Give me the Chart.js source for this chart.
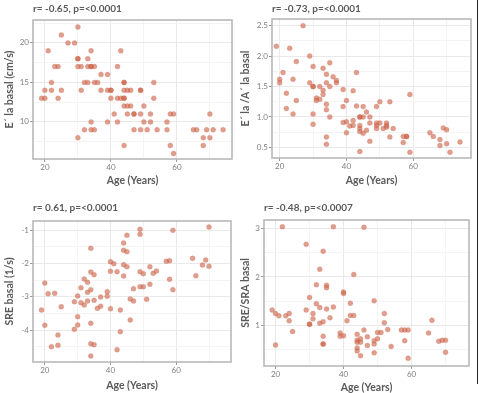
<!DOCTYPE html>
<html>
<head>
<meta charset="utf-8">
<script src="https://cdn.jsdelivr.net/npm/chart.js@4/dist/chart.umd.min.js"></script>
<style>
  body { margin: 0; background: #fff; }
  #wrap { position: relative; width: 481px; height: 393px; overflow: hidden; }
  .panel { position: absolute; }
  #edge { position: absolute; left: 477px; top: 0; width: 1px; height: 384px; background: #222; }
</style>
</head>
<body>
<div id="wrap">
  <div class="panel" style="left:0;top:0"><canvas id="c1" width="240" height="195"></canvas></div>
  <div class="panel" style="left:240px;top:0"><canvas id="c2" width="241" height="195"></canvas></div>
  <div class="panel" style="left:0;top:195px"><canvas id="c3" width="240" height="198"></canvas></div>
  <div class="panel" style="left:240px;top:195px"><canvas id="c4" width="241" height="198"></canvas></div>
  <div id="edge"></div>
</div>
<script>
// --- data ---
const age1 = [19,20,20,21,22,22,23,24,24,25,25,27,29,30,30,30,30,31,31,30,32,33,32,33,33,34,34,35,34,34,34,35,35,36,37,37,39,39,40,40,40,39,41,42,42,43,44,44,42,43,44,44,44,44,45,46,44,45,46,45,47,47,47,49,49,49,49,50,50,51,52,52,53,53,54,57,57,58,59,58,59,65,66,68,68,69,70,70,71,74];
const eLa  = [13,13,14,19,15,14,17,17,13,21,14,20,20,22,18,18,17,17,14,8,15,15,9,18,17,17,17,17,19,10,9,9,15,15,16,14,16,14,14,14,13,10,11,17,13,13,13,13,10,19,15,15,14,12,12,12,7,14,14,11,11,11,9,14,14,11,9,12,10,9,11,10,15,13,9,10,9,11,11,7,6,9,9,8,7,9,11,8,9,9];

const age2 = [19,20,20,21,22,22,23,24,24,25,25,27,29,29,30,30,30,30,30,31,31,32,32,33,33,33,34,34,34,34,34,34,35,35,35,36,37,37,39,39,39,40,40,40,41,42,42,42,43,43,44,44,44,44,44,44,45,45,45,46,46,47,47,47,49,49,49,49,50,50,51,52,52,52,53,53,54,57,58,58,57,59,59,65,66,68,68,69,70,70,71,74];
const eaRatio = [2.16,1.62,1.56,1.73,1.39,1.14,2.13,1.62,1.05,1.91,1.27,2.5,2.0,1.56,1.83,1.5,1.5,1.05,0.88,1.31,1.27,1.5,1.29,1.8,1.44,1.37,1.7,1.56,1.21,1.12,0.67,0.55,1.89,1.5,1.0,1.66,1.6,1.56,1.45,1.17,0.91,1.27,0.92,0.74,0.85,0.86,0.94,1.43,1.73,1.18,1.0,1.0,0.86,0.81,0.76,0.43,1.17,1.0,0.73,1.08,0.78,1.0,0.9,0.6,1.17,0.9,0.86,0.81,1.25,0.9,0.81,0.9,0.86,0.83,1.25,0.67,0.81,0.68,0.68,0.68,0.58,1.37,0.42,0.74,0.68,0.63,0.53,0.82,0.79,0.56,0.42,0.59];

const age3 = [19,20,20,21,22,23,24,24,25,29,29,30,30,30,31,31,32,32,33,33,33,34,34,34,34,34,34,35,35,35,36,37,37,39,39,40,40,40,41,42,42,43,43,44,44,44,44,45,45,45,46,46,47,47,49,49,49,49,50,50,51,52,52,53,54,57,58,58,59,59,65,66,68,69,70,70];
const sre = [-3.4,-2.59,-3.86,-2.91,-4.5,-2.9,-4.15,-4.46,-3.3,-3.15,-3.98,-2.98,-3.6,-3.85,-2.73,-3.18,-2.47,-3.25,-2.57,-2.87,-3.13,-1.55,-2.26,-2.79,-3.8,-4.41,-4.78,-2.34,-3.11,-4.44,-3.35,-3.01,-3.29,-2.85,-2.99,-1.95,-2.24,-3.36,-2.01,-2.25,-4.59,-3.4,-4.05,-1.39,-1.61,-2.04,-2.38,-1.16,-1.65,-2.1,-3.07,-3.7,-2.76,-3.13,-0.98,-1.13,-2.25,-2.7,-2.31,-2.7,-3.08,-2.1,-2.63,-2.3,-2.23,-1.94,-1.92,-2.48,-1.01,-2.79,-1.85,-2.37,-2.05,-1.9,-0.91,-2.09];

const age4 = [19,20,20,21,22,23,24,24,25,29,29,30,30,30,31,31,32,32,33,33,33,34,34,34,34,34,35,35,35,36,37,37,39,39,40,40,40,41,42,42,43,43,44,44,44,44,44,45,45,45,46,46,47,47,49,49,49,49,50,50,51,52,52,53,54,57,58,59,58,59,65,66,68,69,70,70];
const sreSra = [1.32,1.25,0.6,1.2,3.03,1.2,1.25,1.1,0.88,2.67,1.32,1.58,1.03,1.03,1.25,1.14,1.45,1.84,2.16,1.37,1.05,2.53,1.08,0.78,0.62,0.62,1.83,1.78,1.34,1.16,3.03,1.38,0.85,0.78,1.69,1.66,0.79,1.1,1.46,1.21,1.21,2.05,0.82,0.7,0.66,0.54,0.48,0.73,0.66,0.38,0.91,3.02,0.77,0.59,1.51,0.69,0.62,0.44,0.86,0.73,0.86,1.25,1.06,0.92,0.57,0.91,0.91,0.91,0.69,0.33,0.85,1.11,0.68,0.7,0.7,0.45];

// tick values (major ones get labels, the rest are minor grid lines)
const ageTicks = [20, 30, 40, 50, 60, 70];
const ageLabels = [20, 40, 60];
const eLaTicks = [7.5, 10, 12.5, 15, 17.5, 20, 22.5];
const eLaLabels = [10, 15, 20];
const ratioTicks = [0.5, 0.75, 1, 1.25, 1.5, 1.75, 2, 2.25, 2.5];
const ratioLabels = [0.5, 1, 1.5, 2, 2.5];
const sreTicks = [-4.5, -4, -3.5, -3, -2.5, -2, -1.5, -1];
const sreLabels = [-4, -3, -2, -1];
const sraTicks = [0.5, 1, 1.5, 2, 2.5, 3];
const sraLabels = [1, 2, 3];

const grey = '#5a5a5a';
const tickGrey = '#808080';

// ggplot-ish panel border
const boxPlugin = {
  id: 'box',
  beforeDatasetsDraw(chart) {
    const { ctx, chartArea: a } = chart;
    ctx.save();
    ctx.strokeStyle = '#b4b4b4';
    ctx.lineWidth = 1.5;
    ctx.strokeRect(a.left, a.top, a.right - a.left, a.bottom - a.top);
    ctx.restore();
  }
};

function axis(ticks, labels, min, max, fmt, title, fit, titlePad, horizontal) {
  return {
    type: 'linear',
    min, max,
    afterBuildTicks: s => { s.ticks = ticks.map(v => ({ value: v })); },
    afterFit: s => { if (horizontal) s.height = fit; else s.width = fit; },
    ticks: {
      autoSkip: false,
      maxRotation: 0,
      padding: 1,
      color: tickGrey,
      font: { family: 'Lato', size: 8 },
      callback: v => labels.includes(v) ? fmt(v) : ''
    },
    grid: {
      color: c => labels.includes(c.tick.value) ? '#e9e9e9' : '#f4f4f4',
      tickColor: c => labels.includes(c.tick.value) ? '#999' : 'rgba(0,0,0,0)',
      tickLength: 3,
      lineWidth: 1
    },
    border: { display: false },
    title: {
      display: true,
      text: title,
      color: grey,
      font: { family: 'Lato', size: 10.5, weight: 'bold', lineHeight: 1.1 },
      padding: titlePad
    }
  };
}

function makeChart(id, xs, ys, p) {
  const points = xs.map((x, i) => ({ x, y: ys[i] }));
  new Chart(document.getElementById(id), {
    type: 'scatter',
    data: {
      datasets: [{
        data: points,
        pointRadius: 2.5,
        pointHoverRadius: 2.5,
        backgroundColor: 'rgba(205,100,72,0.62)',
        borderColor: 'rgba(200,95,70,0.4)',
        borderWidth: 0.5
      }]
    },
    options: {
      responsive: false,
      animation: false,
      layout: { padding: p.pad },
      plugins: {
        legend: { display: false },
        tooltip: { enabled: false },
        title: {
          display: true,
          text: p.header,
          align: 'start',
          fullSize: false,
          color: grey,
          font: { family: 'Lato', size: 10, weight: 'bold', lineHeight: 1.1 },
          padding: p.headPad
        }
      },
      scales: {
        x: axis(ageTicks, ageLabels, p.xmin, p.xmax, v => String(v), 'Age (Years)', p.xFit, p.xTitlePad, true),
        y: axis(p.yTicks, p.yLabels, p.ymin, p.ymax, p.fmt, p.yTitle, p.yFit, p.yTitlePad, false)
      }
    },
    plugins: [boxPlugin]
  });
}

makeChart('c1', age1, eLa, {
  header: 'r= -0.65, p=<0.0001',
  headPad: { top: 3, bottom: 6 },
  pad: { left: 0, right: 8, top: 0, bottom: 0 },
  xmin: 16.4, xmax: 76.7, ymin: 5.3, ymax: 22.9,
  yTicks: eLaTicks, yLabels: eLaLabels, fmt: v => String(v),
  yTitle: 'E´ la basal (cm/s)',
  xFit: 36, yFit: 33,
  xTitlePad: { top: 0, bottom: 9 }, yTitlePad: { top: 4, bottom: 0 }
});

makeChart('c2', age2, eaRatio, {
  header: 'r= -0.73, p=<0.0001',
  headPad: { top: 3, bottom: 5 },
  pad: { left: 0, right: 10, top: 0, bottom: 0 },
  xmin: 17.7, xmax: 77.3, ymin: 0.325, ymax: 2.61,
  yTicks: ratioTicks, yLabels: ratioLabels, fmt: v => v.toFixed(1),
  yTitle: 'E´ la /A´ la basal',
  xFit: 37, yFit: 32,
  xTitlePad: { top: 0, bottom: 9 }, yTitlePad: { top: 0, bottom: 0 }
});

makeChart('c3', age3, sre, {
  header: 'r= 0.61, p=<0.0001',
  headPad: { top: 7, bottom: 8 },
  pad: { left: 0, right: 9, top: 0, bottom: 0 },
  xmin: 16.4, xmax: 76.7, ymin: -4.96, ymax: -0.73,
  yTicks: sreTicks, yLabels: sreLabels, fmt: v => String(v),
  yTitle: 'SRE basal (1/s)',
  xFit: 31, yFit: 33,
  xTitlePad: { top: 0, bottom: 2 }, yTitlePad: { top: 4, bottom: 0 }
});

makeChart('c4', age4, sreSra, {
  header: 'r= -0.48, p=<0.0007',
  headPad: { top: 7, bottom: 7 },
  pad: { left: 0, right: 12, top: 0, bottom: 0 },
  xmin: 16.6, xmax: 76.9, ymin: 0.17, ymax: 3.17,
  yTicks: sraTicks, yLabels: sraLabels, fmt: v => String(v),
  yTitle: 'SRE/SRA basal',
  xFit: 27, yFit: 24,
  xTitlePad: { top: 0, bottom: 0 }, yTitlePad: { top: 0, bottom: 0 }
});
</script>
</body>
</html>
